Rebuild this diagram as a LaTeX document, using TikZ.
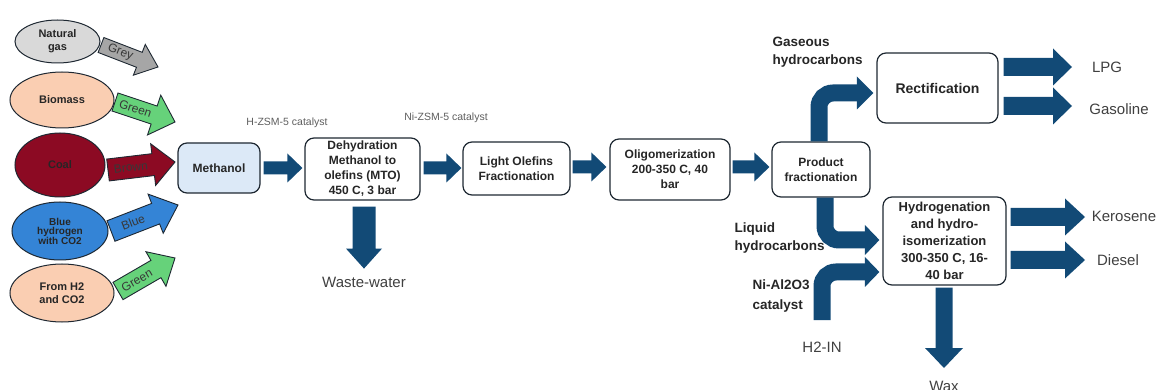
\documentclass[tikz,border=0pt]{standalone}
\usepackage{fontspec}
\setmainfont{Liberation Sans}
\usetikzlibrary{shapes.geometric,calc}
\definecolor{navy}{RGB}{18,74,118}
\definecolor{greyA}{RGB}{166,166,166}
\definecolor{greenA}{RGB}{102,210,122}
\definecolor{brownA}{RGB}{140,10,35}
\definecolor{blueA}{RGB}{52,132,214}
\definecolor{peach}{RGB}{250,206,178}
\definecolor{lgrey}{RGB}{217,217,217}
\definecolor{methfill}{RGB}{220,233,247}
\definecolor{txtgrey}{RGB}{64,64,64}
\definecolor{edge}{RGB}{30,40,50}

% style, start, end, shaft half, head half, head length, label, label pos
\newcommand\blkarrow[8]{%
\path[#1] let \p1=(#2), \p2=(#3), \n1={atan2(\y2-\y1,\x2-\x1)} in
 ($(\p1)+(\n1+90:#4)$) -- ($(\p2)+(\n1+180:#6)+(\n1+90:#4)$) -- ($(\p2)+(\n1+180:#6)+(\n1+90:#5)$) -- (\p2)
 -- ($(\p2)+(\n1+180:#6)+(\n1-90:#5)$) -- ($(\p2)+(\n1+180:#6)+(\n1-90:#4)$) -- ($(\p1)+(\n1-90:#4)$) -- cycle
 ($(\p1)!#8!(\p2)$) node[rotate=\n1, text=black!78, font=\fontsize{12}{12}\selectfont] {#7};
}

\tikzset{
 src/.style={ellipse, draw=edge, line width=1pt, inner sep=0pt, align=center, text=black!85,
   font=\bfseries\fontsize{11}{13}\selectfont},
 proc/.style={rectangle, rounded corners=9pt, draw=edge, line width=1.2pt, fill=white, inner sep=0pt,
   align=center, font=\bfseries\fontsize{12}{15}\selectfont, text=black!85},
 lab/.style={text=txtgrey, font=\fontsize{15}{18}\selectfont},
 cat/.style={text=txtgrey!85, font=\fontsize{10.5}{12}\selectfont},
 side/.style={align=left, anchor=west, text=black!85, font=\bfseries\fontsize{13.5}{18}\selectfont},
 flow/.style={fill=navy},
 colarr/.style={draw=edge, line width=0.9pt, line join=miter},
 bent/.style={draw=navy, line width=17pt, rounded corners=14pt},
}

\begin{document}
\begin{tikzpicture}[x=1pt,y=1pt]
\useasboundingbox (0,0) rectangle (1160,-390);

% sources
\node[src, fill=lgrey, minimum width=85pt, minimum height=43pt] (ng) at (57.5,-41.5) {Natural\\gas};
\node[src, fill=peach, minimum width=104pt, minimum height=56pt] (bio) at (62,-100) {Biomass};
\node[src, fill=brownA, minimum width=90pt, minimum height=64pt] (coal) at (60,-165) {Coal};
\node[src, fill=blueA, minimum width=96pt, minimum height=58pt, font=\bfseries\fontsize{10}{9.5}\selectfont] (blue) at (60,-231) {Blue\\hydrogen\\with CO2};
\node[src, fill=peach, minimum width=104pt, minimum height=58pt] (h2co2) at (62,-293) {From H2\\and CO2};

% process boxes
\node[proc, fill=methfill, minimum width=82pt, minimum height=50pt] (meth) at (219,-168) {Methanol};
\node[proc, minimum width=115pt, minimum height=62pt] (dehy) at (362.5,-169) {Dehydration\\Methanol to\\olefins (MTO)\\450 C, 3 bar};
\node[proc, minimum width=107pt, minimum height=53pt] (lof) at (516.5,-168.5) {Light Olefins\\Fractionation};
\node[proc, minimum width=120pt, minimum height=61pt] (olig) at (670,-169.5) {Oligomerization\\200-350 C, 40\\bar};
\node[proc, minimum width=98pt, minimum height=55pt] (pf) at (821,-169.5) {Product\\fractionation};
\node[proc, minimum width=121pt, minimum height=70pt, font=\bfseries\fontsize{14}{16}\selectfont] (rect) at (937.5,-88) {Rectification};
\node[proc, minimum width=123pt, minimum height=88pt, font=\bfseries\fontsize{13}{17}\selectfont] (hyd) at (944.5,-241) {Hydrogenation\\and hydro-\\isomerization\\300-350 C, 16-\\40 bar};

% coloured source arrows
\coordinate (gA) at (101,-45);  \coordinate (gB) at (158,-67);
\coordinate (bA) at (115,-102); \coordinate (bB) at (175,-122);
\coordinate (cA) at (108,-170); \coordinate (cB) at (175,-162);
\coordinate (uA) at (111,-231); \coordinate (uB) at (178,-205);
\coordinate (hA) at (118,-291); \coordinate (hB) at (175,-258);
\blkarrow{colarr, fill=greyA}{gA}{gB}{8}{16.5}{20}{Grey}{0.34}
\blkarrow{colarr, fill=greenA}{bA}{bB}{9.5}{21}{22}{Green}{0.34}
\blkarrow{colarr, fill=brownA}{cA}{cB}{11}{21}{22}{Brown}{0.34}
\blkarrow{colarr, fill=blueA}{uA}{uB}{11}{21}{24}{Blue}{0.33}
\blkarrow{colarr, fill=greenA}{hA}{hB}{10}{20}{22}{Green}{0.33}

% main chain arrows
\blkarrow{flow}{$(meth.east)+(3,0)$}{$(dehy.west)+(-2,1)$}{6.5}{14.5}{15}{}{0.5}
\blkarrow{flow}{$(dehy.east)+(3,1)$}{$(lof.west)+(-1,0.5)$}{6.5}{14.5}{15}{}{0.5}
\blkarrow{flow}{$(lof.east)+(2,1.5)$}{$(olig.west)+(-3,2.5)$}{6.5}{14.5}{15}{}{0.5}
\blkarrow{flow}{$(olig.east)+(2,2.5)$}{$(pf.west)+(-2,2.5)$}{6.5}{14.5}{15}{}{0.5}
\blkarrow{flow}{$(dehy.south)+(1.5,-6)$}{$(dehy.south)+(1.5,-68)$}{11.5}{18}{20}{}{0.5}

% outputs
\coordinate (lpgT) at (1072,-67);
\coordinate (gasoT) at (1072,-106);
\coordinate (keroT) at (1085,-217);
\coordinate (dieT) at (1085,-260);
\coordinate (waxT) at (944,-368);
\blkarrow{flow}{$(rect.east)+(5,21)$}{lpgT}{9}{18.5}{19}{}{0.5}
\blkarrow{flow}{$(rect.east)+(5,-18)$}{gasoT}{9}{18.5}{19}{}{0.5}
\blkarrow{flow}{$(hyd.east)+(4,24)$}{keroT}{9}{18.5}{20}{}{0.5}
\blkarrow{flow}{$(hyd.east)+(4,-19)$}{dieT}{9}{18.5}{20}{}{0.5}
\blkarrow{flow}{$(hyd.south)+(-0.5,-2)$}{waxT}{8.5}{19}{20}{}{0.5}

% bent arrows
\coordinate (gasTip) at ($(rect.west)+(-3,-5)$);
\draw[bent] ($(pf.north)+(-2,0)$) |- ($(gasTip)+(-16,0)$);
\fill[navy] ($(gasTip)+(-16.5,16.5)$) -- (gasTip) -- ($(gasTip)+(-16.5,-16.5)$) -- cycle;

\coordinate (liqTip) at ($(hyd.west)+(-3,1)$);
\draw[bent] ($(pf.south)+(4,0)$) |- ($(liqTip)+(-14,0)$);
\fill[navy] ($(liqTip)+(-14.5,15)$) -- (liqTip) -- ($(liqTip)+(-14.5,-15)$) -- cycle;

\coordinate (h2s) at (822,-320);
\coordinate (h2Tip) at ($(hyd.west)+(-3,-31)$);
\draw[bent] (h2s) |- ($(h2Tip)+(-14,0)$);
\fill[navy] ($(h2Tip)+(-14.5,15)$) -- (h2Tip) -- ($(h2Tip)+(-14.5,-15)$) -- cycle;

% labels
\node[cat] (c1) at (287,-123) {H-ZSM-5 catalyst};
\node[cat] (c2) at (446,-118) {Ni-ZSM-5 catalyst};
\node[lab] (ww) at (364,-282) {Waste-water};
\node[side] (gasl) at (769,-52.5) {Gaseous\\hydrocarbons};
\node[side] (liql) at (731,-238) {Liquid\\hydrocarbons};
\node[side, font=\bfseries\fontsize{13.5}{20}\selectfont] (nil) at (749,-296) {Ni-Al2O3\\catalyst};
\node[lab] (h2in) at (822,-347) {H2-IN};
\node[lab] (lpg) at (1107,-67) {LPG};
\node[lab] (gaso) at (1119,-109) {Gasoline};
\node[lab] (kero) at (1124,-216) {Kerosene};
\node[lab] (die) at (1118,-260) {Diesel};
\node[lab] (wax) at (944,-386) {Wax};
\end{tikzpicture}
\end{document}
